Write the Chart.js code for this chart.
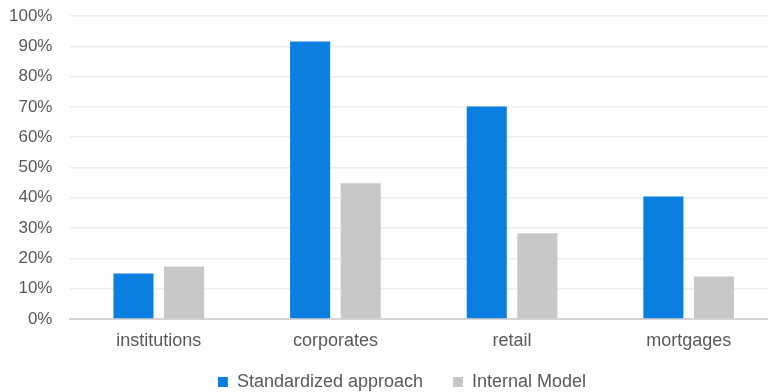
<!DOCTYPE html>
<html>
<head>
<meta charset="utf-8">
<script src="https://cdn.jsdelivr.net/npm/chart.js@4/dist/chart.umd.min.js"></script>
<style>
  html, body { margin: 0; padding: 0; background: #fff; overflow: hidden; }
  /* the plot runs a little past the right edge of the picture, as in the reference */
  #wrap { width: 777px; height: 392px; position: relative; }
</style>
</head>
<body>
<div id="wrap"><canvas id="c"></canvas></div>
<script>
// Categories and series
const categories = ['institutions', 'corporates', 'retail', 'mortgages'];
const standardized = [0.15, 0.916, 0.701, 0.404];
const internalModel = [0.173, 0.448, 0.283, 0.14];
const yTicks = [0, 0.1, 0.2, 0.3, 0.4, 0.5, 0.6, 0.7, 0.8, 0.9, 1.0];

const TEXT = '#595959';
const FAMILY = '"Liberation Sans", Arial, sans-serif';

// legend uses a wide item gap, but should not eat vertical room above it
const legendPlacement = {
  id: 'legendPlacement',
  beforeInit(chart) {
    const legend = chart.legend;
    const fit = legend.fit;
    legend.fit = function () {
      fit.call(this);
      this.height = 24;
    };
  },
  afterLayout(chart) {
    const legend = chart.legend;
    legend.top = 343;
    legend.left += 18;
    legend.right += 18;
  },
};

new Chart(document.getElementById('c'), {
  type: 'bar',
  data: {
    labels: categories,
    datasets: [
      {
        label: 'Standardized approach',
        data: standardized,
        backgroundColor: '#0A7FE0',
        categoryPercentage: 0.573,
        barPercentage: 0.792,
      },
      {
        label: 'Internal Model',
        data: internalModel,
        backgroundColor: '#C7C9C9',
        categoryPercentage: 0.573,
        barPercentage: 0.792,
      },
    ],
  },
  plugins: [legendPlacement],
  options: {
    responsive: true,
    maintainAspectRatio: false,
    animation: false,
    layout: { padding: { left: -9, right: 0, top: 16, bottom: 0 } },
    plugins: {
      legend: {
        position: 'bottom',
        labels: {
          color: TEXT,
          font: { family: FAMILY, size: 18 },
          boxWidth: 10,
          boxHeight: 10,
          padding: 30,
        },
      },
      tooltip: { enabled: false },
    },
    scales: {
      x: {
        grid: { display: false, drawTicks: false },
        border: { color: '#D4D4D4', width: 2 },
        ticks: { color: TEXT, font: { family: FAMILY, size: 18 }, padding: 11 },
        afterFit: (scale) => { scale.height = 49; },
      },
      y: {
        min: 0,
        max: 1,
        afterBuildTicks: (axis) => { axis.ticks = yTicks.map((v) => ({ value: v })); },
        afterFit: (scale) => { scale.paddingTop = 0; },
        grid: { color: '#EDEDED', lineWidth: 1.5, drawTicks: false },
        border: { display: false },
        ticks: {
          color: TEXT,
          font: { family: FAMILY, size: 17 },
          padding: 18,
          callback: (v) => Math.round(v * 100) + '%',
        },
      },
    },
  },
});
</script>
</body>
</html>
